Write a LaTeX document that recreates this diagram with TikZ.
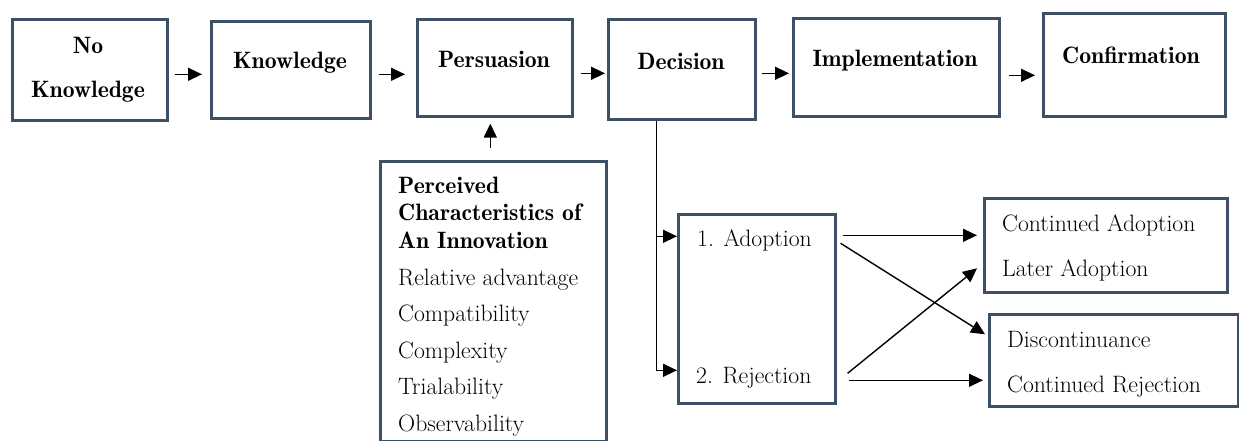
\documentclass[tikz,border=0pt]{standalone}
\usetikzlibrary{arrows.meta}
\definecolor{boxc}{RGB}{62,80,102}
\begin{document}
\begin{tikzpicture}[x=1pt,y=-1pt,
  box/.style={draw=boxc, line width=2.6pt, inner sep=0pt, anchor=north west},
  bfnt/.style={font=\fontsize{23.7}{28}\fontseries{b}\selectfont},
  lb/.style={anchor=base, bfnt, inner sep=0pt},
  lbw/.style={anchor=base west, bfnt, inner sep=0pt},
  lbl/.style={anchor=base west, font=\fontsize{23.7}{28}\selectfont, inner sep=0pt},
  arr/.style={-{Triangle[length=14pt,width=13pt]}, line width=1.4pt, black}]
\useasboundingbox (0,0) rectangle (1239,441);

% boxes
\node[box, minimum width=155pt, minimum height=101pt] (nk) at (11,18) {};
\node[box, minimum width=159pt, minimum height=97pt] (kn) at (210,20) {};
\node[box, minimum width=155pt, minimum height=97pt] (pe) at (416,18) {};
\node[box, minimum width=147pt, minimum height=100pt] (de) at (607,18) {};
\node[box, minimum width=206pt, minimum height=98pt] (im) at (792,17) {};
\node[box, minimum width=182pt, minimum height=103pt] (co) at (1042,12) {};
\node[box, minimum width=226pt, minimum height=280pt] (ch) at (379,160) {};
\node[box, minimum width=157pt, minimum height=189pt] (ad) at (677,213) {};
\node[box, minimum width=243pt, minimum height=94pt] (tr) at (983,197) {};
\node[box, minimum width=249pt, minimum height=92pt] (br) at (988,313) {};

% top row labels
\node[lb] (tno) at (88,53.5) {No};
\node[lb] (tnk) at (88,97.5) {Knowledge};
\node[lb] (tkn) at (290,69) {Knowledge};
\node[lb] (tpe) at (494,68) {Persuasion};
\node[lb] (tde) at (681,70) {Decision};
\node[lb] (tim) at (895,67) {Implementation};
\node[lb] (tco) at (1131,64) {Confirmation};

% characteristics
\node[lbw] (c1) at (398,193) {Perceived};
\node[lbw] (c2) at (398,220) {Characteristics of};
\node[lbw] (c3) at (398,248) {An Innovation};
\node[lbl] (c4) at (398,285) {Relative advantage};
\node[lbl] (c5) at (398,321.5) {Compatibility};
\node[lbl] (c6) at (398,358) {Complexity};
\node[lbl] (c7) at (398,394.5) {Trialability};
\node[lbl] (c8) at (398,431) {Observability};

% adoption / rejection
\node[lbl] (a1) at (697,246) {1. Adoption};
\node[lbl] (a2) at (696,383) {2. Rejection};
\node[lbl] (r1) at (1002,231) {Continued Adoption};
\node[lbl] (r2) at (1002,276) {Later Adoption};
\node[lbl] (r3) at (1007,347) {Discontinuance};
\node[lbl] (r4) at (1007,392) {Continued Rejection};

% top row arrows
\draw[arr] ([shift={(6,4.5)}]nk.east) -- ([shift={(-8,4.5)}]kn.west);
\draw[arr] ([shift={(7,4.5)}]kn.east) -- ([shift={(-11,6.5)}]pe.west);
\draw[arr] ([shift={(7,5.5)}]pe.east) -- ([shift={(-2,4)}]de.west);
\draw[arr] ([shift={(5,4)}]de.east) -- ([shift={(-3,6)}]im.west);
\draw[arr] ([shift={(8,8)}]im.east) -- ([shift={(-7,10.5)}]co.west);
\draw[arr] ([shift={(-3,-12)}]ch.north) -- ([shift={(-4.5,6)}]pe.south);

% decision branches
\draw[arr] ([shift={(-25.5,0)}]de.south) |- ([shift={(0,-72.5)}]ad.west);
\draw[arr] ([shift={(-25.5,0)}]de.south) |- ([shift={(0,61.5)}]ad.west);

% outcome arrows
\draw[arr] ([shift={(6,-73.5)}]ad.east) -- ([shift={(-6,-10)}]tr.west);
\draw[arr] ([shift={(4,-65.5)}]ad.east) -- ([shift={(-3,-26)}]br.west);
\draw[arr] ([shift={(11,64.5)}]ad.east) -- ([shift={(-6,23)}]tr.west);
\draw[arr] ([shift={(12,71.5)}]ad.east) -- ([shift={(-5,20)}]br.west);
\end{tikzpicture}
\end{document}
